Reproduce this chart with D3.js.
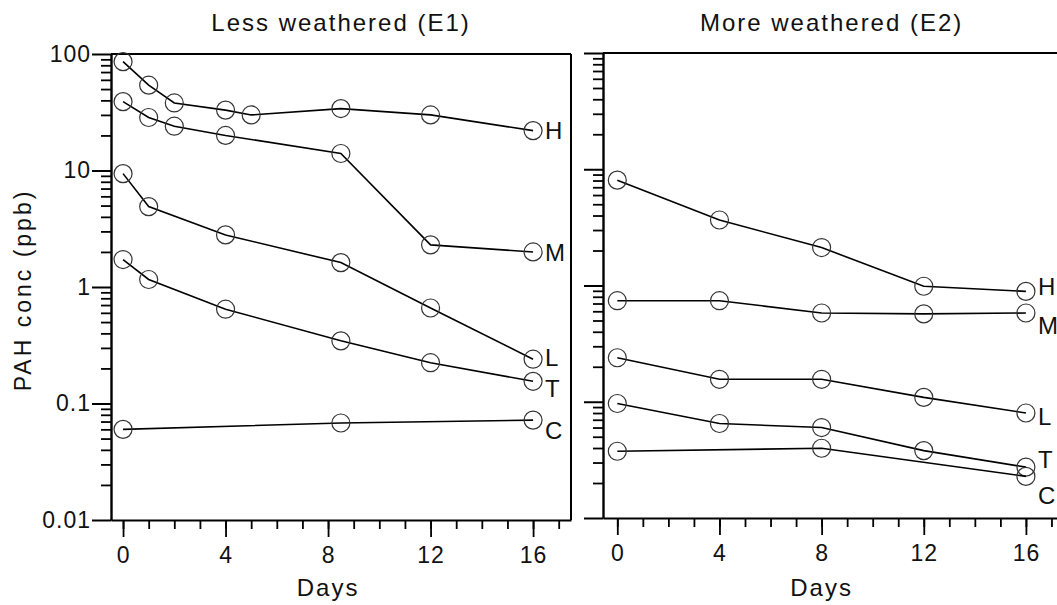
<!DOCTYPE html>
<html>
<head>
<meta charset="utf-8">
<script src="https://cdn.jsdelivr.net/npm/d3@7"></script>
<style>
  body { margin: 0; background: #fff; }
  text { font-family: "Liberation Sans", Arial, sans-serif; fill: #111; }
</style>
</head>
<body>
<script>
// values (ppb, log scale)
const seriesNames = ['H', 'M', 'L', 'T', 'C'];

// Less weathered (E1)
const e1Days = {
  H: [0, 1, 2, 4, 5, 8.5, 12, 16],
  M: [0, 1, 2, 4, 8.5, 12, 16],
  L: [0, 1, 4, 8.5, 12, 16],
  T: [0, 1, 4, 8.5, 12, 16],
  C: [0, 8.5, 16]
};
const e1H = [86, 54, 38, 33, 30, 34, 30, 22];
const e1M = [39, 28.5, 24, 20, 14, 2.3, 2.0];
const e1L = [9.4, 4.9, 2.8, 1.62, 0.66, 0.24];
const e1T = [1.72, 1.16, 0.645, 0.345, 0.224, 0.155];
const e1C = [0.060, 0.068, 0.072];

// More weathered (E2)
const e2Days = {
  H: [0, 4, 8, 12, 16],
  M: [0, 4, 8, 12, 16],
  L: [0, 4, 8, 12, 16],
  T: [0, 4, 8, 12, 16],
  C: [0, 8, 16]
};
const e2H = [8.06, 3.66, 2.12, 0.985, 0.89];
const e2M = [0.74, 0.74, 0.58, 0.57, 0.58];
const e2L = [0.239, 0.156, 0.156, 0.109, 0.080];
const e2T = [0.0966, 0.065, 0.060, 0.038, 0.0274];
const e2C = [0.0375, 0.0398, 0.0228];

const majorDays = [0, 4, 8, 12, 16];
const minorDays = d3.range(0, 18);
const majorConc = [0.01, 0.1, 1, 10, 100];
const minorConc = [0.01, 0.1, 1, 10].flatMap(d => d3.range(2, 10).map(k => d * k));

const W = 1057, H = 605;

const svg = d3.select('body').append('svg')
  .attr('width', W)
  .attr('height', H);

const panels = [
  {
    title: 'Less weathered (E1)',
    titleShift: 13,
    days: e1Days,
    vals: { H: e1H, M: e1M, L: e1L, T: e1T, C: e1C },
    x: d3.scaleLinear().domain([-0.47, 17.48]).range([111, 571]),
    y: d3.scaleLog().domain([0.01, 100]).range([520, 54]),
    yLabels: true,
    nudge: { H: 0, M: 0, L: -2, T: 7, C: 10 }
  },
  {
    title: 'More weathered (E2)',
    titleShift: 10,
    days: e2Days,
    vals: { H: e2H, M: e2M, L: e2L, T: e2T, C: e2C },
    x: d3.scaleLinear().domain([-0.56, 17.53]).range([603, 1065]),
    y: d3.scaleLog().domain([0.01, 100]).range([518, 53]),
    yLabels: false,
    nudge: { H: -5, M: 12, L: 3, T: -8, C: 19 }
  }
];

panels.forEach(p => {
  const g = svg.append('g');
  const [x0, x1] = p.x.range();
  const [yb, yt] = p.y.range();

  // frame: top + right
  g.append('line').attr('x1', x0).attr('x2', x1).attr('y1', yt).attr('y2', yt)
    .attr('stroke', '#000').attr('stroke-width', 2);
  g.append('line').attr('x1', x1).attr('x2', x1).attr('y1', yt).attr('y2', yb)
    .attr('stroke', '#000').attr('stroke-width', 2);

  // y axis minor + major
  g.append('g').attr('transform', `translate(${x0},0)`)
    .call(d3.axisLeft(p.y).tickValues(minorConc).tickSize(10).tickSizeOuter(0).tickFormat(''))
    .call(a => a.selectAll('line,path').attr('stroke', '#000').attr('stroke-width', 1.8));
  const yMaj = g.append('g').attr('transform', `translate(${x0},0)`)
    .call(d3.axisLeft(p.y).tickValues(majorConc).tickSize(19).tickSizeOuter(0).tickPadding(1)
      .tickFormat(d => p.yLabels ? String(d) : ''));
  yMaj.selectAll('line,path').attr('stroke', '#000').attr('stroke-width', 2);
  yMaj.selectAll('text').style('font-size', '23px').style('letter-spacing', '1px')
    .style('font-family', '"Liberation Sans", Arial, sans-serif').attr('fill', '#111');

  // x axis minor + major
  g.append('g').attr('transform', `translate(0,${yb})`)
    .call(d3.axisBottom(p.x).tickValues(minorDays).tickSize(9).tickSizeOuter(0).tickFormat(''))
    .call(a => a.selectAll('line,path').attr('stroke', '#000').attr('stroke-width', 1.8));
  const xMaj = g.append('g').attr('transform', `translate(0,${yb})`)
    .call(d3.axisBottom(p.x).tickValues(majorDays).tickSize(17).tickSizeOuter(0).tickPadding(10));
  xMaj.select('.domain').remove();
  xMaj.selectAll('line').attr('stroke', '#000').attr('stroke-width', 1.8);
  xMaj.selectAll('text').style('font-size', '23px').style('letter-spacing', '1px')
    .style('font-family', '"Liberation Sans", Arial, sans-serif').attr('fill', '#111');

  // titles
  g.append('text')
    .attr('x', p.x(8) + p.titleShift).attr('y', 31)
    .attr('text-anchor', 'middle')
    .style('font-size', '24px').style('letter-spacing', '2px')
    .text(p.title);
  g.append('text')
    .attr('x', p.x(8)).attr('y', 596)
    .attr('text-anchor', 'middle')
    .style('font-size', '24px').style('letter-spacing', '2px')
    .text('Days');

  const line = d3.line().x(d => p.x(d[0])).y(d => p.y(d[1]));

  seriesNames.forEach(s => {
    const pts = p.days[s].map((d, i) => [d, p.vals[s][i]]);
    g.append('path').datum(pts)
      .attr('d', line)
      .attr('fill', 'none')
      .attr('stroke', '#000')
      .attr('stroke-width', 1.6);
    g.selectAll(null).data(pts).enter().append('circle')
      .attr('cx', d => p.x(d[0]))
      .attr('cy', d => p.y(d[1]))
      .attr('r', 9)
      .attr('fill', 'none')
      .attr('stroke', '#333')
      .attr('stroke-width', 1.2);
    const last = pts[pts.length - 1];
    g.append('text')
      .attr('x', p.x(last[0]) + 12)
      .attr('y', p.y(last[1]) + p.nudge[s])
      .attr('dy', '0.36em')
      .style('font-size', '24px')
      .text(s);
  });
});

// y axis title
svg.append('text')
  .attr('transform', 'translate(31,290) rotate(-90)')
  .attr('text-anchor', 'middle')
  .style('font-size', '23px').style('letter-spacing', '3px')
  .text('PAH conc (ppb)');
</script>
</body>
</html>
